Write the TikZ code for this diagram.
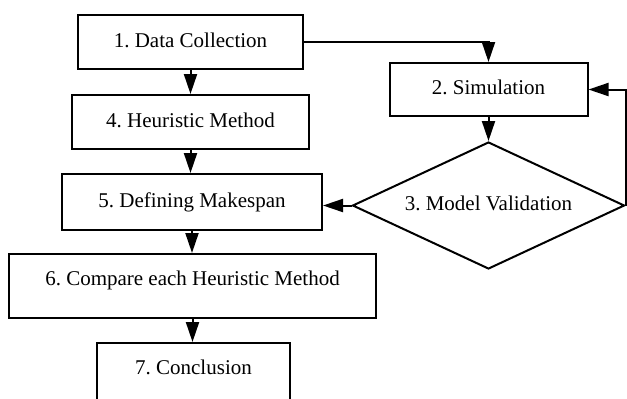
\documentclass[tikz,border=0pt]{standalone}
\usepackage{fontspec}
\setmainfont{Liberation Serif}
\frenchspacing
\usetikzlibrary{arrows.meta, shapes.geometric}

\begin{document}
\begin{tikzpicture}[
		x=0.5pt, y=-0.5pt,
		line width=1pt,
		every node/.style={draw, rectangle, inner sep=0pt, font=\fontsize{10.5}{12}\selectfont, text height=7pt, text depth=2pt},
		tallbox/.style={text depth=8pt},
		decision/.style={diamond, aspect=2.14, minimum width=136pt, minimum height=63.5pt},
		flow/.style={-{Triangle[length=10pt, width=6.5pt]}}
	]
  \path[use as bounding box, clip] (0,0) rectangle (627,398);
  \node (data) [minimum width=112.5pt, minimum height=27pt] at (190.5, 42) {1. Data Collection};
  \node (heur) [minimum width=118.5pt, minimum height=27pt] at (190.5, 122) {4. Heuristic Method};
  \node (make) [minimum width=130pt, minimum height=28pt] at (192, 202) {5. Defining Makespan};
  \node (comp) [tallbox, minimum width=183.5pt, minimum height=32pt] at (192.5, 286) {6. Compare each Heuristic Method};
  \node (concl) [tallbox, minimum width=96.5pt, minimum height=32pt] at (193.5, 375) {7. Conclusion};
  \node (sim) [minimum width=99pt, minimum height=26.5pt] at (488.5, 89.5) {2. Simulation};
  \node (valid) [decision] at (488.5, 205.5) {3. Model Validation};
  \draw[flow] (data) -- (heur);
  \draw[flow] (heur) -- (heur |- make.north);
  \draw[flow] (make) -- (make |- comp.north);
  \draw[flow] (comp) -- (comp |- concl.north);
  \draw[flow] (data) -| (sim);
  \draw[flow] (sim) -- (valid);
  \draw[flow] (valid.east) |- (sim);
  \draw[flow] (valid) -- (valid -| make.east);
\end{tikzpicture}
\end{document}
